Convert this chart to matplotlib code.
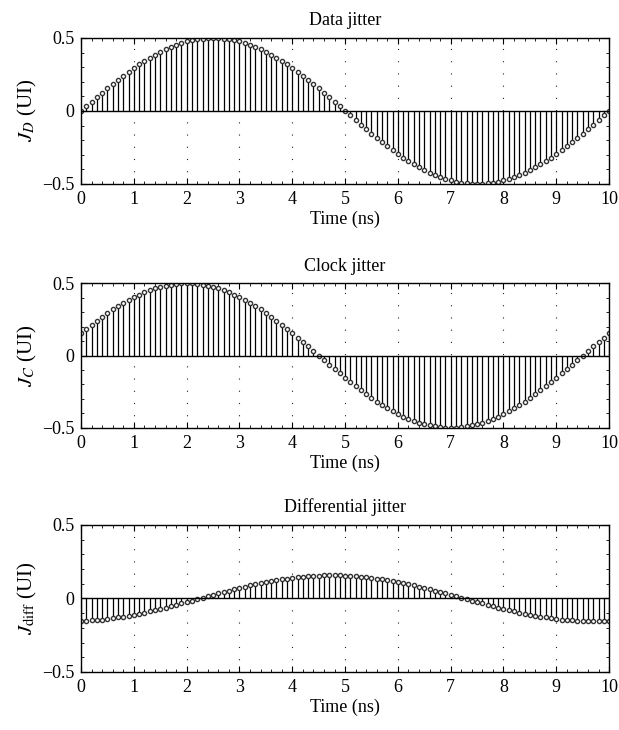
import numpy as np
from matplotlib import pyplot as plt
from matplotlib.ticker import MultipleLocator

plt.rcParams['font.family'] = ['Liberation Serif', 'DejaVu Serif']
plt.rcParams['mathtext.fontset'] = 'stix'

# sample times (ns), 0.1 ns step
time_ns = np.linspace(0, 10, 101)

data_jitter = [
    0.0, 0.031, 0.063, 0.094, 0.124, 0.155, 0.184, 0.213, 0.241, 0.268,
    0.294, 0.319, 0.342, 0.364, 0.385, 0.405, 0.422, 0.438, 0.452, 0.465,
    0.476, 0.484, 0.491, 0.496, 0.499, 0.5, 0.499, 0.496, 0.491, 0.484,
    0.476, 0.465, 0.452, 0.438, 0.422, 0.405, 0.385, 0.364, 0.342, 0.319,
    0.294, 0.268, 0.241, 0.213, 0.184, 0.155, 0.124, 0.094, 0.063, 0.031,
    0.0, -0.031, -0.063, -0.094, -0.124, -0.155, -0.184, -0.213, -0.241, -0.268,
    -0.294, -0.319, -0.342, -0.364, -0.385, -0.405, -0.422, -0.438, -0.452, -0.465,
    -0.476, -0.484, -0.491, -0.496, -0.499, -0.5, -0.499, -0.496, -0.491, -0.484,
    -0.476, -0.465, -0.452, -0.438, -0.422, -0.405, -0.385, -0.364, -0.342, -0.319,
    -0.294, -0.268, -0.241, -0.213, -0.184, -0.155, -0.124, -0.094, -0.063, -0.031,
    0.0,
]

clock_jitter = [
    0.155, 0.184, 0.213, 0.241, 0.268, 0.294, 0.319, 0.342, 0.364, 0.385,
    0.405, 0.422, 0.438, 0.452, 0.465, 0.476, 0.484, 0.491, 0.496, 0.499,
    0.5, 0.499, 0.496, 0.491, 0.484, 0.476, 0.465, 0.452, 0.438, 0.422,
    0.405, 0.385, 0.364, 0.342, 0.319, 0.294, 0.268, 0.241, 0.213, 0.184,
    0.155, 0.124, 0.094, 0.063, 0.031, 0.0, -0.031, -0.063, -0.094, -0.124,
    -0.155, -0.184, -0.213, -0.241, -0.268, -0.294, -0.319, -0.342, -0.364, -0.385,
    -0.405, -0.422, -0.438, -0.452, -0.465, -0.476, -0.484, -0.491, -0.496, -0.499,
    -0.5, -0.499, -0.496, -0.491, -0.484, -0.476, -0.465, -0.452, -0.438, -0.422,
    -0.405, -0.385, -0.364, -0.342, -0.319, -0.294, -0.268, -0.241, -0.213, -0.184,
    -0.155, -0.124, -0.094, -0.063, -0.031, 0.0, 0.031, 0.063, 0.094, 0.124,
    0.155,
]

diff_jitter = [
    -0.154, -0.153, -0.150, -0.147, -0.144, -0.139, -0.135, -0.129, -0.124, -0.117,
    -0.111, -0.103, -0.096, -0.088, -0.080, -0.071, -0.062, -0.053, -0.044, -0.034,
    -0.024, -0.015, -0.005, 0.005, 0.015, 0.024, 0.034, 0.044, 0.053, 0.062,
    0.071, 0.080, 0.088, 0.096, 0.103, 0.111, 0.117, 0.124, 0.129, 0.135,
    0.139, 0.144, 0.147, 0.150, 0.153, 0.154, 0.156, 0.156, 0.156, 0.156,
    0.154, 0.153, 0.150, 0.147, 0.144, 0.139, 0.135, 0.129, 0.124, 0.117,
    0.111, 0.103, 0.096, 0.088, 0.080, 0.071, 0.062, 0.053, 0.044, 0.034,
    0.024, 0.015, 0.005, -0.005, -0.015, -0.024, -0.034, -0.044, -0.053, -0.062,
    -0.071, -0.080, -0.088, -0.096, -0.103, -0.111, -0.117, -0.124, -0.129, -0.135,
    -0.139, -0.144, -0.147, -0.150, -0.153, -0.154, -0.156, -0.156, -0.156, -0.156,
    -0.154,
]

titles = ['Data jitter', 'Clock jitter', 'Differential jitter']
ylabels = [r'$J_D$ (UI)', r'$J_C$ (UI)', r'$J_{\mathrm{diff}}$ (UI)']
series = [data_jitter, clock_jitter, diff_jitter]

# axes boxes in figure fraction: left, bottom, width, height
boxes = [
    [0.131, 0.748, 0.853, 0.200],
    [0.131, 0.414, 0.853, 0.198],
    [0.131, 0.0795, 0.853, 0.2015],
]


def stem_panel(ax, y, title, ylabel):
    markers, stems, base = ax.stem(time_ns, y, linefmt='k-', markerfmt='o', basefmt='k-')
    plt.setp(stems, linewidth=0.9)
    plt.setp(markers, markersize=3.0, markerfacecolor='white',
             markeredgecolor='#333333', markeredgewidth=1.0)
    plt.setp(base, linewidth=1.0)
    ax.set_xlim(0, 10)
    ax.set_ylim(-0.5, 0.5)
    ax.set_xticks(range(0, 11))
    ax.set_yticks([-0.5, 0, 0.5])
    ax.set_yticklabels(['\u22120.5', '0', '0.5'])
    ax.xaxis.set_minor_locator(MultipleLocator(0.2))
    ax.yaxis.set_minor_locator(MultipleLocator(0.1))
    ax.tick_params(which='both', direction='in', top=True, right=True, labelsize=13)
    ax.tick_params(which='major', length=4, pad=5)
    ax.tick_params(which='minor', length=2)
    ax.grid(axis='x', linestyle=(0, (1, 10)), color='#222222', linewidth=0.8)
    for s in ax.spines.values():
        s.set_linewidth(1.0)
    ax.set_title(title, fontsize=13, pad=9)
    ax.set_xlabel('Time (ns)', fontsize=13, labelpad=2)
    ax.set_ylabel(ylabel, fontsize=15, labelpad=2)


fig = plt.figure(figsize=(6.19, 7.30), dpi=100)
for box, y, title, ylabel in zip(boxes, series, titles, ylabels):
    ax = fig.add_axes(box)
    stem_panel(ax, y, title, ylabel)

fig.savefig('out.png', dpi=100)
